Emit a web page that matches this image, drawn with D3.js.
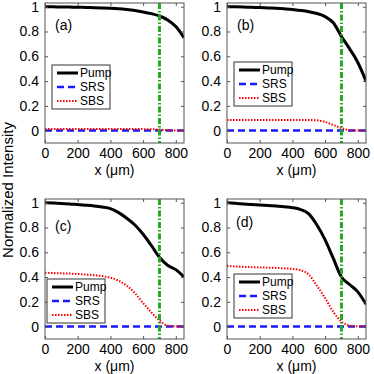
<!DOCTYPE html>
<html><head><meta charset="utf-8">
<script src="https://cdn.jsdelivr.net/npm/d3@7/dist/d3.min.js"></script>
<style>html,body{margin:0;padding:0;background:#fff;}svg{display:block;font-family:"Liberation Sans",Arial,sans-serif;}</style>
</head><body>
<script>
// ---- data ----
const xPos = [0,50,100,150,200,250,300,350,400,450,500,550,600,650,700,750,800,850];
const pumpA = [1.0,0.999,0.998,0.997,0.996,0.994,0.992,0.99,0.987,0.983,0.977,0.969,0.958,0.944,0.925,0.893,0.84,0.75];
const srsA  = [0,0,0,0,0,0,0,0,0,0,0,0,0,0,0,0,0,0];
const sbsA  = [0.012,0.012,0.012,0.012,0.012,0.012,0.012,0.012,0.012,0.012,0.012,0.012,0.012,0.011,0.008,0.003,0.001,0];
const pumpB = [1.0,0.999,0.997,0.995,0.993,0.99,0.987,0.983,0.978,0.97,0.96,0.945,0.92,0.87,0.76,0.66,0.55,0.40];
const srsB  = [0,0,0,0,0,0,0,0,0,0,0,0,0,0,0,0,0,0];
const sbsB  = [0.085,0.085,0.085,0.085,0.085,0.085,0.085,0.085,0.085,0.085,0.085,0.083,0.07,0.045,0.02,0.004,0.001,0];
const pumpC = [1.0,0.997,0.993,0.99,0.985,0.98,0.974,0.965,0.952,0.92,0.875,0.82,0.745,0.655,0.56,0.495,0.46,0.40];
const srsC  = [0,0,0,0,0,0,0,0,0,0,0,0,0,0,0,0,0,0];
const sbsC  = [0.435,0.432,0.43,0.428,0.425,0.42,0.415,0.408,0.395,0.37,0.33,0.27,0.19,0.115,0.05,0.008,0.002,0];
const pumpD = [1.0,0.995,0.99,0.986,0.982,0.978,0.973,0.967,0.96,0.945,0.91,0.82,0.70,0.55,0.40,0.34,0.28,0.18];
const srsD  = [0,0,0,0,0,0,0,0,0,0,0,0,0,0,0,0,0,0];
const sbsD  = [0.49,0.485,0.482,0.48,0.478,0.476,0.474,0.47,0.466,0.455,0.42,0.33,0.23,0.12,0.04,0.008,0.002,0];
const markerX = 700;
const xTicks = [0,200,400,600,800];
const yTicks = [0,0.2,0.4,0.6,0.8,1];
const yTickLabels = ["0","0.2","0.4","0.6","0.8","1"];
const seriesNames = ["Pump","SRS","SBS"];
const panelLabels = ["(a)","(b)","(c)","(d)"];

// ---- layout ----
const W = 374, H = 374;
const panels = [
  {label:panelLabels[0], pump:pumpA, srs:srsA, sbs:sbsA, left:45,  top:3,   leg:[52,65],  lab:[55,30]},
  {label:panelLabels[1], pump:pumpB, srs:srsB, sbs:sbsB, left:227, top:3,   leg:[234,62], lab:[237,30]},
  {label:panelLabels[2], pump:pumpC, srs:srsC, sbs:sbsC, left:45,  top:199, leg:[47,279], lab:[55,231]},
  {label:panelLabels[3], pump:pumpD, srs:srsD, sbs:sbsD, left:227, top:199, leg:[234,274],lab:[236,227]}
];
const pw = 139, ph = 140;
const styles = {
  Pump:{stroke:"#000", width:3, dash:null},
  SRS:{stroke:"#1a1aff", width:2.5, dash:"7,4"},
  SBS:{stroke:"#ff0000", width:2, dash:"1.5,1.5"}
};

const svg = d3.select("body").append("svg").attr("width",W).attr("height",H);

panels.forEach(p => {
  const x = d3.scaleLinear().domain([0,850]).range([p.left, p.left+pw]);
  const y = d3.scaleLinear().domain([-0.1,1.03]).range([p.top+ph, p.top]);
  const g = svg.append("g");
  const clipId = "clip"+p.label.replace(/\W/g,"");
  g.append("clipPath").attr("id",clipId).append("rect")
    .attr("x",p.left).attr("y",p.top).attr("width",pw).attr("height",ph);

  const line = d3.line().x((d,i)=>x(xPos[i])).y(d=>y(d)).curve(d3.curveMonotoneX);
  const plot = g.append("g").attr("clip-path",`url(#${clipId})`);
  [["Pump",p.pump],["SRS",p.srs],["SBS",p.sbs]].forEach(([name,vals])=>{
    const s = styles[name];
    plot.append("path").datum(vals).attr("d",line).attr("fill","none")
      .attr("stroke",s.stroke).attr("stroke-width",s.width)
      .attr("stroke-dasharray",s.dash);
  });
  plot.append("line").attr("x1",x(markerX)).attr("x2",x(markerX))
    .attr("y1",p.top).attr("y2",p.top+ph)
    .attr("stroke","#22aa22").attr("stroke-width",3).attr("stroke-dasharray","6,2,1.5,2");

  // frame
  g.append("rect").attr("x",p.left).attr("y",p.top).attr("width",pw).attr("height",ph)
    .attr("fill","none").attr("stroke","#555").attr("stroke-width",1);

  // axes
  const xa = d3.axisBottom(x).tickValues(xTicks).tickSize(-3).tickPadding(5).tickFormat(d3.format("d"));
  const xg = g.append("g").attr("transform",`translate(0,${p.top+ph})`).call(xa);
  const xaT = d3.axisTop(x).tickValues(xTicks).tickSize(-3).tickFormat("");
  const xgT = g.append("g").attr("transform",`translate(0,${p.top})`).call(xaT);
  const ya = d3.axisLeft(y).tickValues(yTicks).tickSize(-3).tickPadding(6).tickFormat((d,i)=>yTickLabels[i]);
  const yg = g.append("g").attr("transform",`translate(${p.left},0)`).call(ya);
  const yaR = d3.axisRight(y).tickValues(yTicks).tickSize(-3).tickFormat("");
  const ygR = g.append("g").attr("transform",`translate(${p.left+pw},0)`).call(yaR);
  [xg,xgT,yg,ygR].forEach(a=>{
    a.select(".domain").remove();
    a.selectAll("line").attr("stroke","#555");
    a.selectAll("text").attr("fill","#000").style("font-size","14px").style("font-family",'"Liberation Sans",Arial,sans-serif');
  });

  g.append("text").attr("x",(p.left+p.left+pw)/2).attr("y",p.top+ph+32)
    .attr("text-anchor","middle").style("font-size","14px").text("x (\u03bcm)");

  g.append("text").attr("x",p.lab[0]).attr("y",p.lab[1]).style("font-size","14px").text(p.label);

  // legend
  const lg = g.append("g").attr("transform",`translate(${p.leg[0]},${p.leg[1]})`);
  lg.append("rect").attr("width",58).attr("height",44).attr("fill","#fff").attr("stroke","#333").attr("stroke-width",1);
  seriesNames.forEach((n,i)=>{
    const yy = 8 + i*14;
    const s = styles[n];
    lg.append("line").attr("x1",5).attr("x2",26).attr("y1",yy).attr("y2",yy)
      .attr("stroke",s.stroke).attr("stroke-width",s.width).attr("stroke-dasharray",s.dash);
    lg.append("text").attr("x",28).attr("y",yy+4).style("font-size","12px").text(n);
  });
});

svg.append("text").attr("transform","translate(13,190) rotate(-90)")
  .attr("text-anchor","middle").style("font-size","15px").text("Normalized Intensity");
</script>
</body></html>
